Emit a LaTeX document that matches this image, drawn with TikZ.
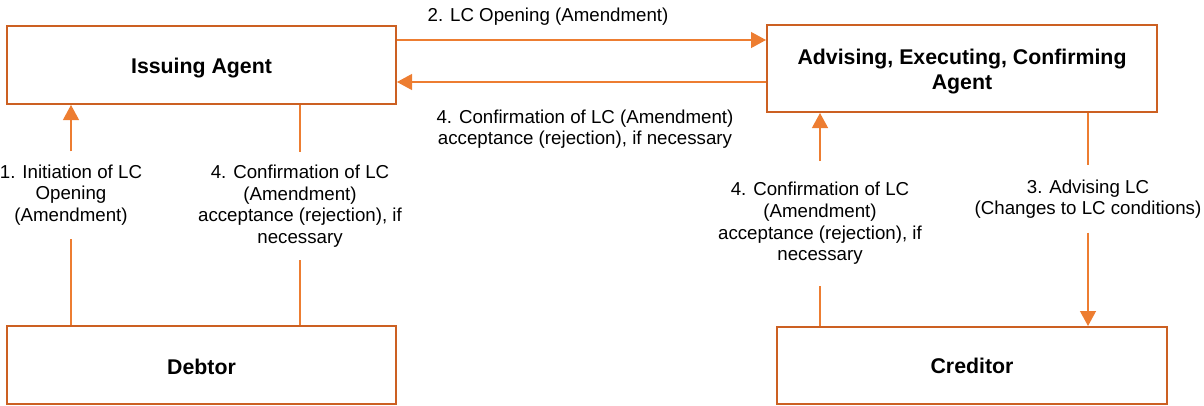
\documentclass[tikz,border=0pt]{standalone}
\usepackage{fontspec}
\setmainfont{Liberation Sans}
\usetikzlibrary{arrows.meta}
\definecolor{boxc}{HTML}{CC6022}
\definecolor{linec}{HTML}{ED7D31}
\tikzset{
  agent/.style={draw=boxc, line width=2pt, fill=white, inner sep=0pt},
  agenttext/.style={align=center, inner sep=0pt, yshift=-3.5pt,
    font=\fontsize{21.3}{25}\selectfont\bfseries},
  lbl/.style={align=center, inner xsep=0pt, font=\fontsize{18.7}{21.6}\selectfont},
  conn/.style={draw=linec, line width=1.2pt},
  arr/.style={conn, -{Triangle[width=16pt,length=15pt]}}
}
\begin{document}
\begin{tikzpicture}[x=1pt,y=-1pt]
\useasboundingbox (0,0) rectangle (1204,405);
% boxes
\node[agent, minimum width=389pt, minimum height=78pt] (iss) at (201.5,65) {};
\node[agent, minimum width=390pt, minimum height=87pt] (adv) at (962,68.5) {};
\node[agent, minimum width=389pt, minimum height=78pt] (deb) at (201.5,365) {};
\node[agent, minimum width=390pt, minimum height=77pt] (cre) at (972,365.5) {};
\node[agenttext] (isst) at (iss.center) {Issuing Agent};
\node[agenttext] (advt) at (adv.center) {Advising, Executing, Confirming\\Agent};
\node[agenttext, yshift=1.5pt] (debt) at (deb.center) {Debtor};
\node[agenttext, yshift=3pt] (cret) at (cre.center) {Creditor};
% labels
\node[lbl] (l2) at (548,17) {2. LC Opening (Amendment)};
\node[lbl] (l4t) at (585,129) {4. Confirmation of LC (Amendment)\\acceptance (rejection), if necessary};
\node[lbl, inner ysep=13pt] (l1) at (71,195) {1. Initiation of LC\\Opening\\(Amendment)};
\node[lbl, inner ysep=13pt] (l4l) at (300,206) {4. Confirmation of LC\\(Amendment)\\acceptance (rejection), if\\necessary};
\node[lbl, inner ysep=21pt] (l4r) at (820,223.5) {4. Confirmation of LC\\(Amendment)\\acceptance (rejection), if\\necessary};
\node[lbl, inner ysep=14pt] (l3) at (1088,199) {3. Advising LC\\(Changes to LC conditions)};
% horizontal connectors
\coordinate (t1) at ([yshift=25pt]iss.east);
\coordinate (b1) at ([yshift=-13.5pt]adv.west);
\draw[arr] (t1) -- (t1 -| adv.west);
\draw[arr] (b1) -- (b1 -| iss.east);
% left verticals
\draw[conn] (deb.north -| l1) -- (l1.south);
\draw[arr] (l1.north) -- (iss.south -| l1);
\draw[conn] (iss.south -| l4l) -- (l4l.north);
\draw[conn] (l4l.south) -- (deb.north -| l4l);
% right verticals
\draw[conn] (cre.north -| l4r) -- (l4r.south);
\draw[arr] (l4r.north) -- (adv.south -| l4r);
\draw[conn] (adv.south -| l3) -- (l3.north);
\draw[arr] (l3.south) -- (cre.north -| l3);
\end{tikzpicture}
\end{document}
